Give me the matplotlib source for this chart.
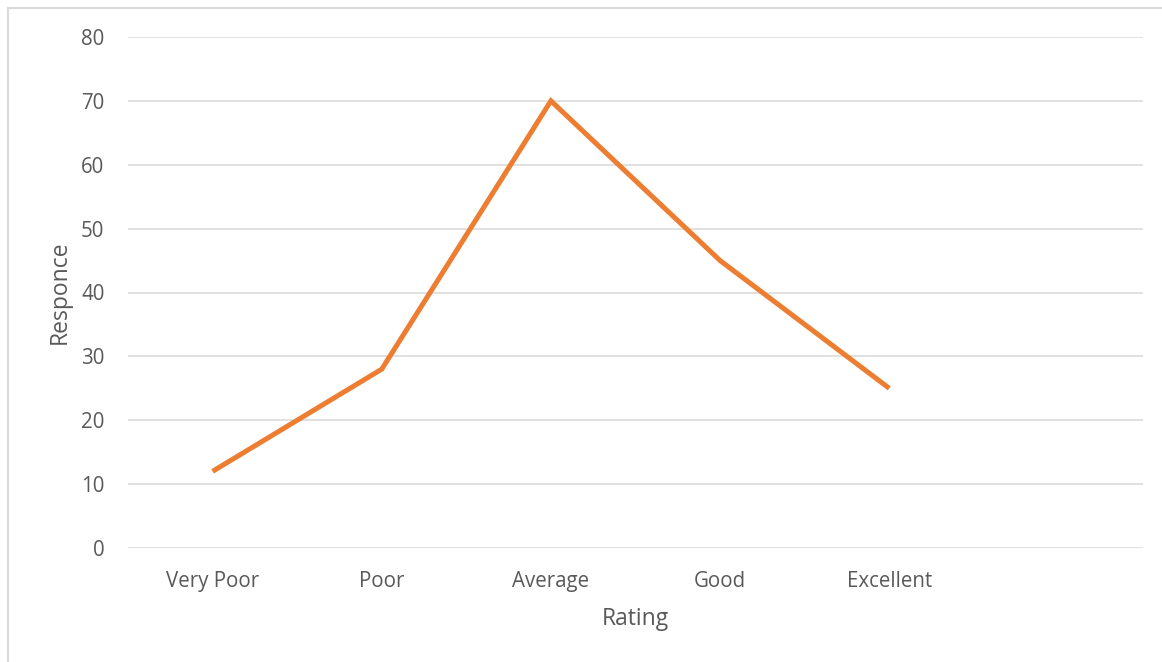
import matplotlib.pyplot as plt
from matplotlib.patches import Rectangle

CATEGORIES = ['Very Poor', 'Poor', 'Average', 'Good', 'Excellent', '']
RESPONSES = [12, 28, 70, 45, 25]

TEXT_COLOR = '#595959'
plt.rcParams['font.family'] = ['Open Sans', 'DejaVu Sans']

fig = plt.figure(figsize=(11.62, 6.62), dpi=100)
ax = fig.add_axes([128 / 1162, 1 - 548 / 662, (1143 - 128) / 1162, (548 - 37) / 662])

ax.plot(range(len(RESPONSES)), RESPONSES, color='#ED7D31', linewidth=3.6,
        solid_capstyle='butt', solid_joinstyle='miter', zorder=3)

ax.set_xlim(-0.5, len(CATEGORIES) - 0.5)
ax.set_ylim(0, 80)
ax.set_yticks(range(0, 81, 10))
ax.set_xticks(range(len(CATEGORIES)))
ax.set_xticklabels(CATEGORIES)
ax.tick_params(length=0, labelsize=14.8, colors=TEXT_COLOR)
ax.tick_params(axis='y', pad=17)
ax.tick_params(axis='x', pad=16.5)
ax.grid(axis='y', color='#D9D9D9', linewidth=1.1)
ax.set_axisbelow(True)
for spine in ax.spines.values():
    spine.set_visible(False)

ax.set_xlabel('Rating', fontsize=16.5, color=TEXT_COLOR, va='center')
ax.set_ylabel('Responce', fontsize=16.5, color=TEXT_COLOR, va='center')
ax.xaxis.set_label_coords(0.5, (548 - 619) / 511)
ax.yaxis.set_label_coords((60 - 128) / 1015, 0.5)

# chart border (left and top visible in the crop)
fig.patches.append(Rectangle((8 / 1162, -0.1), 1.2, 1 - 8 / 662 + 0.1,
                             transform=fig.transFigure, fill=False,
                             edgecolor='#D9D9D9', linewidth=1.5))

fig.savefig('out.png', dpi=100)
